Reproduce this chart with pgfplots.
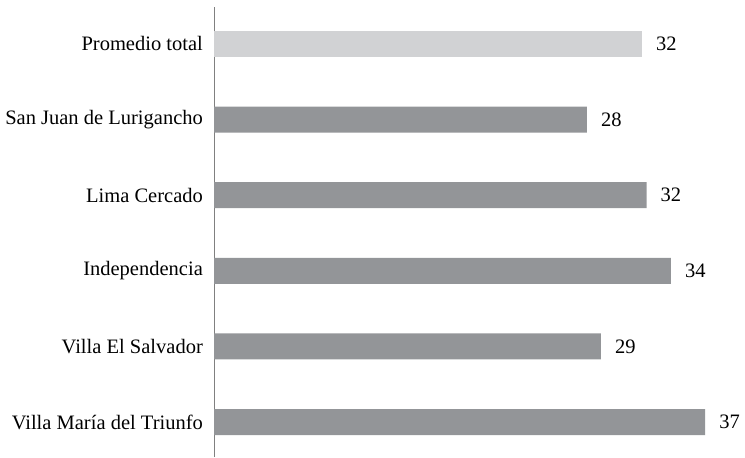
\documentclass[border=0pt]{standalone}
\usepackage{pgfplots}
\pgfplotsset{compat=1.18}
\usepackage{fontspec}
\setmainfont{Liberation Serif}
\definecolor{lightbar}{HTML}{D1D2D4}
\definecolor{darkbar}{HTML}{939598}
\definecolor{axisgray}{HTML}{808080}
\begin{document}
\fontsize{20.5}{24}\selectfont
\begin{tikzpicture}
\begin{axis}[name=ax,
  x=13.27pt, y=75.6pt,
  xmin=0, xmax=40, ymin=-0.463, ymax=5.489,
  xbar, bar width=26pt,
  axis x line=none,
  axis y line*=left,
  y axis line style={draw=axisgray, line width=0.8pt, -},
  ytick={0,1,2,3,4,5},
  yticklabels={Villa María del Triunfo, Villa El Salvador, Independencia, Lima Cercado, San Juan de Lurigancho, Promedio total},
  major tick length=0pt,
  yticklabel style={font=\fontsize{20.5}{24}\selectfont, inner sep=0pt, xshift=-11pt},
  point meta=explicit symbolic,
  nodes near coords,
  nodes near coords style={anchor=west, inner sep=0pt, xshift=14pt, font=\fontsize{20.5}{24}\selectfont},
  clip=false,
]
\addplot[fill=lightbar, draw=none, bar shift=0pt] coordinates {(32.23,5) [32]};
\addplot[fill=darkbar, draw=none, bar shift=0pt] coordinates {
  (37,0) [37]
  (29.14,1) [29]
  (34.42,2) [34]
  (32.58,3) [32]
  (28.09,4) [28]
};
\end{axis}
\pgfresetboundingbox
\path (ax.south west) ++(-214pt,0) rectangle ([yshift=7pt]ax.north east);
\end{tikzpicture}
\end{document}
